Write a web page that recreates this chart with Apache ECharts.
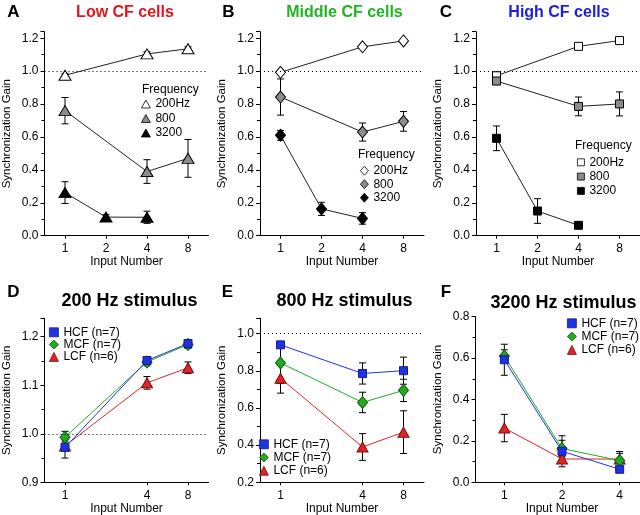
<!DOCTYPE html>
<html><head><meta charset="utf-8">
<script src="https://cdn.jsdelivr.net/npm/echarts@6/dist/echarts.min.js"></script>
<style>html,body{margin:0;padding:0;background:#fff}#c{width:640px;height:515px}</style>
</head><body><div id="c"></div>
<script>
// ---- data ----
const inputs = ['1', '2', '4', '8'];      // panels A-E (log2 spacing)
const inputsF = ['1', '2', '4'];          // panel F
// 200 Hz (inputs 1,4,8)
const lcf200 = [0.975, null, 1.105, 1.136];
const lcf200Err = [0.010, null, 0.013, 0.012];
const mcf200 = [0.993, null, 1.148, 1.184];
const mcf200Err = [0.012, null, 0.008, 0.008];
const hcf200 = [0.972, null, 1.151, 1.186];
const hcf200Err = [0.022, null, 0.007, 0.008];
// 800 Hz (inputs 1,4,8)
const lcf800 = [0.76, null, 0.39, 0.47];
const lcf800Err = [0.08, null, 0.072, 0.115];
const mcf800 = [0.843, null, 0.63, 0.695];
const mcf800Err = [0.11, null, 0.055, 0.06];
const hcf800 = [0.94, null, 0.786, 0.801];
const hcf800Err = [0.012, null, 0.057, 0.073];
// 3200 Hz (inputs 1,2,4)
const lcf3200 = [0.262, 0.113, 0.112];
const lcf3200Err = [0.066, 0.015, 0.037];
const mcf3200 = [0.61, 0.163, 0.105];
const mcf3200Err = [0.03, 0.04, 0.035];
const hcf3200 = [0.592, 0.15, 0.063];
const hcf3200Err = [0.075, 0.075, 0.008];

const FONT = '"Liberation Sans", Arial, Helvetica, sans-serif';
const pad = a => a.concat([null]);

const grids = [
  {left: 44.5, top: 31.7, width: 164, height: 204},   // A
  {left: 260, top: 31.7, width: 164, height: 204},    // B
  {left: 476, top: 31.7, width: 164, height: 204},    // C
  {left: 44.5, top: 318.3, width: 164, height: 164},  // D
  {left: 260, top: 318.3, width: 164, height: 164},   // E
  {left: 475.5, top: 316.7, width: 173, height: 165.6} // F
].map(g => Object.assign({outerBoundsMode: 'none', containLabel: false}, g));

const yRanges = [
  {min: 0, max: 1.24, interval: 0.2},
  {min: 0, max: 1.24, interval: 0.2},
  {min: 0, max: 1.24, interval: 0.2},
  {min: 0.9, max: 1.238, interval: 0.1},
  {min: 0.2, max: 1.083, interval: 0.2},
  {min: 0, max: 0.8, interval: 0.2}
];

const axisLine = {show: true, lineStyle: {color: '#000', width: 1}};
const xAxes = grids.map((g, i) => {
  const cats = i === 5 ? inputsF : inputs;
  const hide2 = (i === 3 || i === 4);
  return {
    type: 'category', gridIndex: i, data: cats, boundaryGap: true,
    axisLine: axisLine,
    axisTick: {show: true, alignWithLabel: true, length: 3, lineStyle: {color: '#000'},
      interval: hide2 ? ((idx) => idx !== 1) : 0},
    axisLabel: {color: '#000', fontSize: 12, fontFamily: FONT, margin: 7,
      interval: hide2 ? ((idx) => idx !== 1) : 0},
    splitLine: {show: false},
    name: 'Input Number', nameLocation: 'middle', nameGap: i < 3 ? 19 : 16,
    nameTextStyle: {color: '#000', fontSize: 12, fontFamily: FONT}
  };
});
const yAxes = grids.map((g, i) => Object.assign({
  type: 'value', gridIndex: i,
  axisLine: axisLine,
  axisTick: {show: true, length: 4, lineStyle: {color: '#000'}},
  minorTick: {show: true, splitNumber: 2, length: 3, lineStyle: {color: '#000'}},
  axisLabel: {color: '#000', fontSize: 12, fontFamily: FONT, margin: 6, showMaxLabel: i === 5,
    formatter: v => v.toFixed(1)},
  splitLine: {show: false}, minorSplitLine: {show: false},
  name: 'Synchronization Gain', nameLocation: 'middle', nameGap: 32,
  nameTextStyle: {color: '#000', fontSize: 11.5, fontFamily: FONT}
}, yRanges[i]));

function errRender(params, api) {
  const x = api.value(0), y = api.value(1), e = api.value(2);
  const t = api.coord([x, y + e]), b = api.coord([x, y - e]);
  const hw = 3.5;
  const st = {stroke: '#000', lineWidth: 1};
  return {type: 'group', children: [
    {type: 'line', shape: {x1: t[0], y1: t[1], x2: b[0], y2: b[1]}, style: st},
    {type: 'line', shape: {x1: t[0] - hw, y1: t[1], x2: t[0] + hw, y2: t[1]}, style: st},
    {type: 'line', shape: {x1: b[0] - hw, y1: b[1], x2: b[0] + hw, y2: b[1]}, style: st}
  ]};
}
const series = [];
function add(name, gi, vals, errs, sym, size, fill, border, lineColor, ref) {
  const ed = [];
  vals.forEach((v, k) => { if (v != null) ed.push([k, v, errs[k]]); });
  series.push({type: 'custom', name: name + '#err', xAxisIndex: gi, yAxisIndex: gi,
    renderItem: errRender, data: ed, z: 2, silent: true});
  const s = {type: 'line', name: name, xAxisIndex: gi, yAxisIndex: gi, data: vals,
    connectNulls: true, symbol: sym, symbolSize: size, showSymbol: true, showAllSymbol: true,
    itemStyle: {color: fill, borderColor: border, borderWidth: 1, opacity: 1},
    lineStyle: {color: lineColor, width: 1}, z: 3, silent: true,
    emphasis: {disabled: true}};
  if (ref) s.markLine = {silent: true, symbol: 'none', label: {show: false},
    lineStyle: {color: '#000', type: [1, 3], width: 1}, data: [{yAxis: 1}], animation: false};
  series.push(s);
}
const WHITE = '#ffffff', GRAY = '#8c8c8c', BLACK = '#000000', LINE = '#222';
// A: Low CF
add('A|200Hz', 0, lcf200, lcf200Err, 'triangle', [12, 10], WHITE, BLACK, LINE, true);
add('A|800', 0, lcf800, lcf800Err, 'triangle', [12, 10], GRAY, BLACK, LINE);
add('A|3200', 0, pad(lcf3200), pad(lcf3200Err), 'triangle', [12, 10], BLACK, BLACK, LINE);
// B: Middle CF
add('B|200Hz', 1, mcf200, mcf200Err, 'diamond', [10, 12], WHITE, BLACK, LINE, true);
add('B|800', 1, mcf800, mcf800Err, 'diamond', [10, 12], GRAY, BLACK, LINE);
add('B|3200', 1, pad(mcf3200), pad(mcf3200Err), 'diamond', [10, 12], BLACK, BLACK, LINE);
// C: High CF
add('C|200Hz', 2, hcf200, hcf200Err, 'rect', 8, WHITE, BLACK, LINE, true);
add('C|800', 2, hcf800, hcf800Err, 'rect', 8, GRAY, BLACK, LINE);
add('C|3200', 2, pad(hcf3200), pad(hcf3200Err), 'rect', 8, BLACK, BLACK, LINE);

const BLUE = '#1f33e0', BLUEB = '#101f8a', GREEN = '#22aa22', GREENB = '#0e5e0e', RED = '#e02424', REDB = '#7a1010';
// D: 200 Hz
add('D|LCF (n=6)', 3, lcf200, lcf200Err, 'triangle', [11, 10], RED, REDB, RED);
add('D|MCF (n=7)', 3, mcf200, mcf200Err, 'diamond', [10, 12], GREEN, GREENB, GREEN);
add('D|HCF (n=7)', 3, hcf200, hcf200Err, 'rect', 8, BLUE, BLUEB, BLUE, true);
// E: 800 Hz
add('E|LCF (n=6)', 4, lcf800, lcf800Err, 'triangle', [11, 10], RED, REDB, RED);
add('E|MCF (n=7)', 4, mcf800, mcf800Err, 'diamond', [10, 12], GREEN, GREENB, GREEN);
add('E|HCF (n=7)', 4, hcf800, hcf800Err, 'rect', 8, BLUE, BLUEB, BLUE, true);
// F: 3200 Hz
add('F|LCF (n=6)', 5, lcf3200, lcf3200Err, 'triangle', [11, 10], RED, REDB, RED);
add('F|MCF (n=7)', 5, mcf3200, mcf3200Err, 'diamond', [10, 12], GREEN, GREENB, GREEN);
add('F|HCF (n=7)', 5, hcf3200, hcf3200Err, 'rect', 8, BLUE, BLUEB, BLUE);

function legend(p, items, left, top, gap, iw, ih) {
  return {orient: 'vertical', left: left, top: top, padding: 0, itemGap: gap,
    itemWidth: iw, itemHeight: ih, selectedMode: false,
    itemStyle: {borderWidth: 0.8},
    data: items.map(it => ({name: p + '|' + it[0], icon: it[1]})),
    formatter: n => n.split('|')[1],
    textStyle: {color: '#000', fontSize: 12, fontFamily: FONT}};
}
const freqItemsTri = [['200Hz', 'triangle'], ['800', 'triangle'], ['3200', 'triangle']];
const freqItemsDia = [['200Hz', 'diamond'], ['800', 'diamond'], ['3200', 'diamond']];
const freqItemsRect = [['200Hz', 'rect'], ['800', 'rect'], ['3200', 'rect']];
const cfItems = [['HCF (n=7)', 'rect'], ['MCF (n=7)', 'diamond'], ['LCF (n=6)', 'triangle']];
const legends = [
  legend('A', freqItemsTri, 141, 98, 2.5, 9, 8),
  legend('B', freqItemsDia, 360, 164.7, 1.5, 8, 9),
  legend('C', freqItemsRect, 577, 156.3, 2.3, 7, 7),
  legend('D', cfItems, 49, 326.3, 0.3, 9, 9),
  legend('E', cfItems, 259, 438.3, 1.2, 9, 9),
  legend('F', cfItems, 567, 317.3, 1.3, 9, 9)
];

function txt(x, y, s, font, fill, align) {
  return {type: 'text', x: x, y: y, silent: true,
    style: {text: s, font: font, fill: fill || '#000', align: align || 'center', verticalAlign: 'middle'}};
}
const BOLD16 = 'bold 16px ' + FONT, BOLD18 = 'bold 18px ' + FONT, LET = 'bold 17px ' + FONT, REG12 = '12px ' + FONT;
const graphics = [
  txt(13.5, 12.5, 'A', LET), txt(125, 13, 'Low CF cells', BOLD16, '#e8141c'),
  txt(228.5, 12.5, 'B', LET), txt(344.5, 13, 'Middle CF cells', BOLD16, '#22b422'),
  txt(446, 12.5, 'C', LET), txt(559, 13, 'High CF cells', BOLD16, '#1a1ee0'),
  txt(13.5, 292.5, 'D', LET), txt(129.5, 301.5, '200 Hz stimulus', BOLD18),
  txt(227.5, 292.5, 'E', LET), txt(344.5, 301.5, '800 Hz stimulus', BOLD18),
  txt(446, 292.5, 'F', LET), txt(563.5, 303, '3200 Hz stimulus', BOLD18),
  txt(142, 90, 'Frequency', REG12, '#000', 'left'),
  txt(358, 155, 'Frequency', REG12, '#000', 'left'),
  txt(575, 145.7, 'Frequency', REG12, '#000', 'left')
];

const chart = echarts.init(document.getElementById('c'), null, {renderer: 'canvas'});
chart.setOption({
  animation: false, backgroundColor: '#fff',
  textStyle: {fontFamily: FONT},
  grid: grids, xAxis: xAxes, yAxis: yAxes, series: series, legend: legends,
  graphic: graphics
});
</script></body></html>
